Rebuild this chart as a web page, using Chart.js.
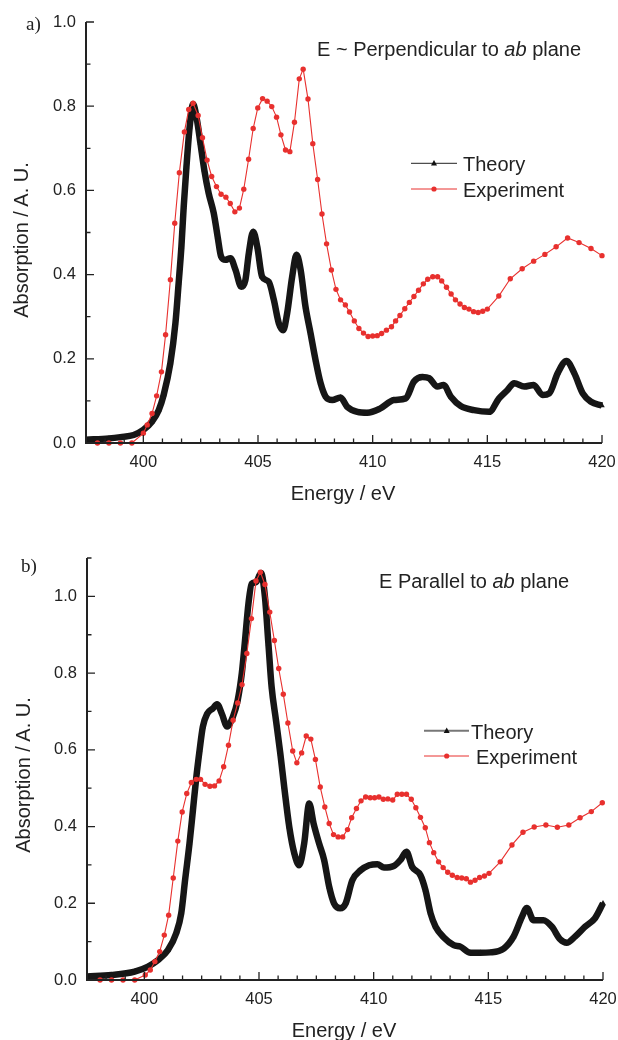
<!DOCTYPE html>
<html><head><meta charset="utf-8">
<script src="https://cdn.jsdelivr.net/npm/chart.js@4.4.1/dist/chart.umd.min.js"></script>
<style>
html,body{margin:0;padding:0;background:#fff;}
body{width:618px;height:1040px;position:relative;overflow:hidden;font-family:'Liberation Sans',Arial,sans-serif;color:#222;}
.cv{position:absolute;left:0;width:618px;height:520px;}
.t{position:absolute;font-size:20px;line-height:20px;white-space:nowrap;}
.xt{position:absolute;width:200px;text-align:center;font-size:20px;line-height:20px;white-space:nowrap;}
.lab{position:absolute;font-family:'Liberation Serif','Times New Roman',serif;font-size:19px;line-height:19px;}
.yt{position:absolute;width:220px;height:20px;text-align:center;font-size:20px;line-height:20px;transform:rotate(-90deg);white-space:nowrap;}
svg{position:absolute;left:0;top:0;}
</style></head>
<body>
<div class="cv" style="top:0"><canvas id="c1" width="618" height="520"></canvas></div>
<div class="cv" style="top:520px"><canvas id="c2" width="618" height="520"></canvas></div>

<div class="lab" style="left:26px;top:14px">a)</div>
<div class="lab" style="left:21px;top:556px">b)</div>

<div class="t" style="left:317px;top:39px">E ~ Perpendicular to <i>ab</i> plane</div>
<div class="t" style="left:379px;top:571px">E Parallel to <i>ab</i> plane</div>

<div class="t" style="left:463px;top:154px">Theory</div>
<div class="t" style="left:463px;top:179.5px">Experiment</div>
<div class="t" style="left:471px;top:721.5px">Theory</div>
<div class="t" style="left:476px;top:747px">Experiment</div>

<div class="yt" style="left:-89.5px;top:230px">Absorption / A. U.</div>
<div class="yt" style="left:-87.5px;top:765px">Absorption / A. U.</div>
<div class="xt" style="left:243px;top:482.5px">Energy / eV</div>
<div class="xt" style="left:244px;top:1019.5px">Energy / eV</div>

<svg width="618" height="1040">
  <line x1="411" y1="163.3" x2="457" y2="163.3" stroke="#222" stroke-width="1"/>
  <polygon points="434,160 437,165.5 431,165.5" fill="#111"/>
  <line x1="411" y1="189" x2="457" y2="189" stroke="#e8302e" stroke-width="1"/>
  <circle cx="434" cy="189" r="2.6" fill="#e8302e"/>
  <line x1="424" y1="730.7" x2="469" y2="730.7" stroke="#777" stroke-width="2"/>
  <polygon points="446.7,727.5 449.7,733 443.7,733" fill="#111"/>
  <line x1="424" y1="756" x2="469" y2="756" stroke="#e8302e" stroke-width="1"/>
  <circle cx="446.7" cy="756" r="2.6" fill="#e8302e"/>
</svg>

<script>
// ---------- data: panel a) E ~ perpendicular ----------
const aTheoryE = [397.5,398.5,399.0,399.58,400.0,400.38,400.67,400.89,401.18,401.4,401.54,401.66,401.76,401.88,402.02,402.17,402.34,402.49,402.66,402.85,403.07,403.24,403.39,403.58,403.8,404.02,404.27,404.45,404.6,404.79,404.97,405.18,405.47,405.69,405.91,406.1,406.27,406.49,406.68,406.86,407.07,407.29,407.51,407.73,407.95,408.24,408.6,408.89,409.33,409.77,410.3,410.93,411.44,411.8,412.17,412.46,412.82,413.09,413.41,413.84,414.42,415.08,415.51,415.88,416.17,416.61,417.02,417.41,417.7,418.07,418.45,418.79,419.16,419.52,420.0];
const aTheoryY = [0.008,0.011,0.014,0.019,0.031,0.051,0.078,0.115,0.190,0.285,0.380,0.466,0.561,0.656,0.751,0.805,0.767,0.712,0.648,0.593,0.546,0.490,0.443,0.435,0.439,0.411,0.371,0.387,0.451,0.502,0.466,0.395,0.383,0.340,0.284,0.268,0.308,0.395,0.447,0.411,0.324,0.261,0.197,0.142,0.110,0.102,0.108,0.086,0.074,0.072,0.081,0.102,0.106,0.146,0.157,0.154,0.134,0.138,0.110,0.088,0.078,0.074,0.106,0.126,0.142,0.134,0.138,0.114,0.118,0.166,0.195,0.166,0.118,0.098,0.089];
const aExpE = [398.0,398.5,399.0,399.5,400.0,400.17,400.38,400.58,400.79,400.97,401.18,401.37,401.57,401.79,401.98,402.17,402.39,402.58,402.78,402.98,403.19,403.39,403.6,403.79,403.99,404.19,404.38,404.59,404.79,404.99,405.2,405.4,405.6,405.81,406.0,406.2,406.39,406.59,406.8,406.97,407.18,407.39,407.6,407.79,407.99,408.2,408.4,408.6,408.81,408.99,409.2,409.4,409.6,409.8,410.0,410.2,410.39,410.6,410.82,411.0,411.19,411.4,411.6,411.8,412.0,412.21,412.4,412.62,412.83,413.01,413.22,413.42,413.61,413.81,414.0,414.2,414.4,414.6,414.8,415.0,415.5,416.0,416.52,417.02,417.51,418.0,418.5,419.0,419.52,420.0];
const aExpY = [0.0,0.0,0.0,0.0,0.023,0.043,0.070,0.112,0.169,0.257,0.388,0.522,0.642,0.739,0.792,0.807,0.778,0.725,0.672,0.633,0.609,0.591,0.584,0.569,0.549,0.558,0.603,0.674,0.747,0.796,0.818,0.812,0.799,0.774,0.732,0.696,0.692,0.762,0.865,0.888,0.817,0.711,0.626,0.544,0.473,0.411,0.365,0.340,0.328,0.311,0.290,0.272,0.261,0.253,0.254,0.255,0.260,0.268,0.276,0.290,0.303,0.319,0.334,0.348,0.363,0.378,0.389,0.395,0.395,0.385,0.370,0.354,0.340,0.330,0.322,0.318,0.312,0.310,0.313,0.318,0.349,0.390,0.414,0.432,0.448,0.466,0.487,0.476,0.462,0.445];

// ---------- data: panel b) E parallel ----------
const bTheoryE = [397.5,398.57,399.58,400.16,400.6,401.03,401.39,401.61,401.78,401.97,402.12,402.26,402.41,402.55,402.74,402.99,403.17,403.38,403.61,403.86,404.07,404.25,404.39,404.54,404.68,404.87,405.09,405.26,405.41,405.55,405.74,405.93,406.1,406.32,406.54,406.75,406.97,407.19,407.38,407.62,407.84,408.06,408.27,408.54,408.78,409.07,409.43,409.8,410.16,410.45,410.88,411.17,411.43,411.68,412.04,412.26,412.48,412.7,413.06,413.49,413.78,414.22,414.65,415.09,415.67,416.1,416.47,416.68,416.97,417.4,417.77,418.13,418.42,418.78,419.22,419.65,420.0];
const bTheoryY = [0.009,0.013,0.022,0.035,0.052,0.078,0.122,0.174,0.262,0.356,0.443,0.525,0.599,0.660,0.694,0.708,0.719,0.694,0.661,0.686,0.729,0.799,0.885,0.981,1.033,1.037,1.061,0.998,0.877,0.764,0.677,0.590,0.503,0.399,0.330,0.299,0.356,0.460,0.408,0.356,0.313,0.243,0.200,0.187,0.200,0.260,0.286,0.299,0.302,0.293,0.297,0.313,0.334,0.295,0.273,0.234,0.174,0.139,0.111,0.091,0.087,0.071,0.071,0.072,0.082,0.113,0.165,0.188,0.156,0.156,0.139,0.106,0.097,0.113,0.139,0.161,0.200];
const bExpE = [398.07,398.57,399.07,399.58,400.04,400.26,400.46,400.67,400.87,401.06,401.26,401.46,401.65,401.85,402.05,402.26,402.45,402.65,402.86,403.06,403.26,403.46,403.67,403.87,404.07,404.26,404.47,404.67,404.87,405.06,405.26,405.47,405.67,405.86,406.06,406.26,406.47,406.65,406.86,407.06,407.26,407.46,407.67,407.87,408.06,408.25,408.45,408.65,408.86,409.04,409.25,409.45,409.65,409.85,410.04,410.23,410.42,410.62,410.83,411.03,411.23,411.43,411.64,411.84,412.04,412.25,412.43,412.62,412.83,413.03,413.23,413.43,413.64,413.84,414.04,414.22,414.42,414.62,414.83,415.03,415.52,416.03,416.51,417.0,417.51,418.01,418.51,419.0,419.49,419.97];
const bExpY = [0.0,0.0,0.0,0.0,0.013,0.026,0.048,0.074,0.117,0.169,0.266,0.362,0.438,0.486,0.515,0.523,0.523,0.510,0.505,0.506,0.519,0.556,0.612,0.677,0.722,0.770,0.851,0.942,1.040,1.063,1.031,0.959,0.885,0.812,0.745,0.670,0.597,0.566,0.592,0.636,0.628,0.575,0.503,0.451,0.408,0.379,0.373,0.373,0.392,0.423,0.447,0.467,0.477,0.475,0.475,0.477,0.471,0.472,0.469,0.484,0.484,0.484,0.471,0.449,0.424,0.397,0.358,0.332,0.308,0.293,0.281,0.273,0.267,0.266,0.264,0.255,0.260,0.267,0.271,0.278,0.308,0.352,0.385,0.399,0.404,0.398,0.404,0.423,0.439,0.462];

// ---------- axes / ticks ----------
const xRange = [397.5, 420];
const xMajorTicks = [400, 405, 410, 415, 420];
const aYRange = [0, 1.0];
const aYMajorTicks = [0.0, 0.2, 0.4, 0.6, 0.8, 1.0];
const bYRange = [0, 1.1];
const bYMajorTicks = [0.0, 0.2, 0.4, 0.6, 0.8, 1.0];

const xMinorTicks = [];
for (let k = -3; k <= 24; k++) { if (k % 6 !== 0) xMinorTicks.push(400 + k * 5 / 6); }
function yMinor(max) { const r = []; for (let v = 0.1; v <= max + 1e-6; v += 0.2) r.push(+v.toFixed(2)); return r; }

const RED = '#e8302e';
const BLACK = '#161616';

const pts = (xs, ys) => xs.map((x, i) => ({ x: x, y: ys[i] }));

const inTicks = {
  id: 'inTicks',
  afterDatasetsDraw(chart, args, o) {
    const { ctx, chartArea: a, scales: { x, y } } = chart;
    ctx.save();
    ctx.strokeStyle = '#222';
    ctx.lineWidth = 1.3;
    ctx.beginPath();
    o.xMajor.forEach(v => { const p = x.getPixelForValue(v); ctx.moveTo(p, a.bottom); ctx.lineTo(p, a.bottom - 8); });
    o.xMinor.forEach(v => { const p = x.getPixelForValue(v); ctx.moveTo(p, a.bottom); ctx.lineTo(p, a.bottom - 4.5); });
    o.yMajor.forEach(v => { const p = y.getPixelForValue(v); ctx.moveTo(a.left, p); ctx.lineTo(a.left + 8, p); });
    o.yMinor.forEach(v => { const p = y.getPixelForValue(v); ctx.moveTo(a.left, p); ctx.lineTo(a.left + 4.5, p); });
    ctx.stroke();
    ctx.lineWidth = 2;
    ctx.beginPath();
    ctx.moveTo(a.left, a.top); ctx.lineTo(a.left, a.bottom); ctx.lineTo(a.right, a.bottom);
    ctx.stroke();
    ctx.restore();
  }
};

function makeChart(id, theory, exp, yRange, yMajor, area) {
  return new Chart(document.getElementById(id), {
    type: 'line',
    data: {
      datasets: [
        { label: 'Experiment', data: exp, order: 0, borderColor: RED, borderWidth: 1.1,
          pointStyle: 'circle', pointRadius: 2.7, pointBackgroundColor: RED, pointBorderWidth: 0,
          tension: 0, clip: { left: 0, top: 4, right: 4, bottom: 3 } },
        { label: 'Theory', data: theory, order: 1, borderColor: BLACK, borderWidth: 6.5,
          pointStyle: 'triangle', pointRadius: 3.2, pointBackgroundColor: BLACK, pointBorderWidth: 0,
          cubicInterpolationMode: 'monotone', clip: { left: 0, top: 4, right: 4, bottom: 3 } }
      ]
    },
    options: {
      responsive: false, animation: false, events: [],
      layout: { padding: { top: area.top, right: 618 - area.right, left: 0, bottom: 0 } },
      plugins: {
        legend: { display: false }, tooltip: { enabled: false },
        inTicks: { xMajor: xMajorTicks, xMinor: xMinorTicks, yMajor: yMajor, yMinor: yMinor(yRange[1]) }
      },
      scales: {
        x: {
          type: 'linear', min: xRange[0], max: xRange[1],
          grid: { display: false, drawTicks: false }, border: { display: false },
          afterBuildTicks: s => { s.ticks = xMajorTicks.map(v => ({ value: v })); },
          ticks: { padding: area.xPad, color: '#222', font: { size: 16.5 }, maxRotation: 0, autoSkip: false,
                   callback: v => String(v) },
          afterFit: s => { s.height = 520 - area.bottom; s.paddingLeft = 0; s.paddingRight = 0; }
        },
        y: {
          type: 'linear', min: yRange[0], max: yRange[1],
          grid: { display: false, drawTicks: false }, border: { display: false },
          afterBuildTicks: s => { s.ticks = yMajor.map(v => ({ value: v })); },
          ticks: { padding: 10, color: '#222', font: { size: 16.5 }, autoSkip: false,
                   callback: v => Number(v).toFixed(1) },
          afterFit: s => { s.width = area.left; s.paddingTop = 0; s.paddingBottom = 0; }
        }
      }
    },
    plugins: [inTicks]
  });
}

Chart.defaults.font.family = "'Liberation Sans', Arial, sans-serif";
Chart.defaults.color = '#222';

makeChart('c1', pts(aTheoryE, aTheoryY), pts(aExpE, aExpY), aYRange, aYMajorTicks,
  { left: 86, right: 602, top: 22, bottom: 443, xPad: 10 });
makeChart('c2', pts(bTheoryE, bTheoryY), pts(bExpE, bExpY), bYRange, bYMajorTicks,
  { left: 87, right: 603, top: 38, bottom: 460, xPad: 9.5 });
</script>
</body></html>
